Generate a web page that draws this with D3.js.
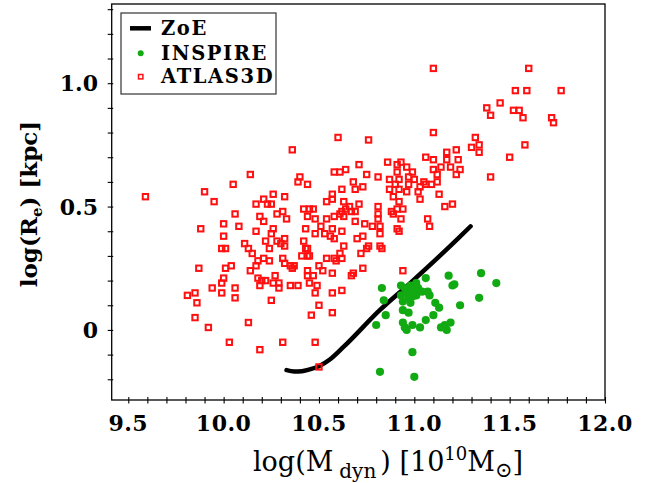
<!DOCTYPE html>
<html><head><meta charset="utf-8">
<script src="https://cdn.jsdelivr.net/npm/d3@7"></script>
<style>body{margin:0;background:#fff}svg{display:block}</style>
</head><body>
<script>
// ---- data ----
const atlas3d = [
[9.59,0.54],[9.90,0.56],[9.95,0.52],[10.05,0.59],[10.14,0.63],[10.36,0.73],[9.88,0.41],[10.00,0.43],[10.06,0.47],[10.08,0.42],
[10.00,0.38],[9.99,0.33],[10.01,0.33],[10.11,0.35],[10.13,0.33],[10.15,0.31],[10.17,0.40],[10.17,0.51],[10.21,0.53],[10.23,0.51],
[10.25,0.51],[10.26,0.55],[10.32,0.54],[10.28,0.47],[10.31,0.48],[10.33,0.45],[10.19,0.46],[10.21,0.44],[10.26,0.41],[10.25,0.39],
[10.22,0.36],[10.24,0.33],[10.28,0.36],[10.32,0.37],[10.32,0.34],[10.30,0.35],[10.21,0.29],[10.24,0.28],[10.18,0.28],[10.17,0.26],
[10.14,0.24],[10.18,0.21],[10.20,0.20],[10.22,0.20],[10.19,0.18],[10.27,0.22],[10.26,0.19],[10.29,0.19],[10.29,0.17],[10.31,0.29],
[10.32,0.27],[10.35,0.26],[10.36,0.25],[10.37,0.26],[10.04,0.26],[10.01,0.25],[10.00,0.21],[9.99,0.19],[9.99,0.15],[9.94,0.17],
[10.06,0.17],[10.06,0.13],[10.25,0.12],[10.13,0.03],[10.03,-0.05],[10.19,-0.08],[10.31,-0.05],[10.35,0.18],[10.39,0.18],[9.81,0.14],
[9.85,0.15],[9.86,0.11],[9.85,0.05],[9.92,0.01],[9.87,0.25],[10.39,0.60],[10.40,0.62],[10.44,0.59],[10.48,-0.05],[10.50,-0.15],
[10.60,0.78],[10.76,0.77],[10.86,0.68],[10.91,0.67],[10.91,0.64],[10.87,0.61],[10.90,0.59],[10.87,0.57],[10.89,0.54],[10.81,0.62],
[10.75,0.63],[10.71,0.67],[10.68,0.60],[10.69,0.57],[10.73,0.58],[10.62,0.57],[10.64,0.65],[10.58,0.64],[10.61,0.64],[10.57,0.55],
[10.54,0.52],[10.57,0.53],[10.63,0.52],[10.66,0.50],[10.71,0.51],[10.69,0.48],[10.67,0.48],[10.64,0.49],[10.62,0.48],[10.61,0.47],
[10.63,0.46],[10.58,0.46],[10.54,0.45],[10.47,0.49],[10.45,0.49],[10.48,0.45],[10.42,0.49],[10.44,0.46],[10.92,0.52],[10.91,0.49],
[10.88,0.48],[10.89,0.47],[10.91,0.41],[10.81,0.50],[10.81,0.47],[10.81,0.45],[10.82,0.42],[10.82,0.39],[10.78,0.42],[10.74,0.43],
[10.69,0.44],[10.73,0.38],[10.70,0.37],[10.62,0.40],[10.57,0.41],[10.51,0.42],[10.48,0.39],[10.43,0.41],[10.42,0.36],[10.44,0.33],
[10.45,0.30],[10.56,0.38],[10.53,0.39],[10.58,0.37],[10.76,0.34],[10.75,0.33],[10.82,0.34],[10.83,0.33],[10.72,0.31],[10.63,0.34],
[10.61,0.31],[10.62,0.29],[10.59,0.28],[10.58,0.29],[10.54,0.29],[10.43,0.33],[10.44,0.30],[10.41,0.30],[10.73,0.25],[10.67,0.22],
[10.68,0.23],[10.57,0.23],[10.52,0.24],[10.50,0.26],[10.44,0.24],[10.47,0.22],[10.44,0.22],[10.45,0.19],[10.49,0.18],[10.48,0.15],
[10.57,0.15],[10.62,0.16],[10.94,0.24],[10.50,0.10],[10.46,0.06],[10.57,0.07],
[11.10,1.06],[11.60,1.06],[11.53,0.97],[11.59,0.97],[11.77,0.97],[11.45,0.92],[11.38,0.90],[11.40,0.87],[11.52,0.89],[11.55,0.89],
[11.57,0.86],[11.72,0.86],[11.73,0.84],[11.10,0.80],[11.32,0.78],[11.30,0.74],[11.34,0.75],[11.34,0.72],[11.58,0.75],[11.50,0.70],
[11.40,0.62],[11.06,0.70],[11.10,0.69],[11.17,0.72],[11.22,0.73],[11.23,0.69],[11.24,0.65],[11.22,0.63],[11.17,0.69],[11.14,0.66],
[11.10,0.65],[11.12,0.63],[10.93,0.68],[10.96,0.66],[10.99,0.64],[11.00,0.61],[11.06,0.59],[11.09,0.59],[11.12,0.60],[11.03,0.58],
[11.02,0.56],[11.03,0.53],[11.13,0.55],[11.16,0.50],[11.20,0.51],[11.07,0.45],[11.08,0.42],[10.92,0.61],[10.92,0.57],[10.94,0.49],
[10.93,0.45],[10.92,0.40],[10.97,0.62],[11.05,0.60],[10.96,0.56],[10.97,0.59],[11.19,0.66]
];
const inspire = [
[10.83,0.17],[10.84,0.12],[10.85,0.06],[10.80,0.02],[10.93,0.18],[10.98,0.18],[10.99,0.16],[11.02,0.17],[11.04,0.155],[11.01,0.14],
[10.99,0.135],[10.96,0.15],[10.93,0.14],[10.94,0.115],[10.98,0.11],[11.06,0.21],[11.07,0.155],[11.08,0.14],[11.11,0.11],[11.13,0.09],
[11.10,0.06],[11.06,0.04],[10.94,0.08],[10.97,0.07],[10.94,0.03],[10.95,0.01],[10.96,0.00],[10.99,0.02],[11.03,0.01],[11.18,0.22],
[11.20,0.18],[11.21,0.185],[11.24,0.10],[11.34,0.13],[11.35,0.23],[11.43,0.19],[11.14,0.01],[11.17,0.00],[11.19,0.03],[11.16,0.02],
[10.99,-0.09],[10.82,-0.17],[11.00,-0.19],[10.95,0.17],[11.00,0.15],[10.97,0.13],[11.01,0.19]
];
const zoeX = [10.33,10.37,10.41,10.45,10.50,10.557,10.63,10.82,10.977,11.222,11.295];
const zoeY = [-0.163,-0.168,-0.167,-0.160,-0.147,-0.120,-0.068,0.081,0.189,0.365,0.42];
const xTickValues = [9.5,10.0,10.5,11.0,11.5,12.0];
const xTickLabels = ["9.5","10.0","10.5","11.0","11.5","12.0"];
const yTickValues = [0,0.5,1.0];
const yTickLabels = ["0","0.5","1.0"];
const legendLabels = ["ZoE","INSPIRE","ATLAS3D"];
const xDomain = [9.413,12.0];
const yDomain = [-0.284,1.321];

// ---- drawing ----
const W=656,H=483;
const L=111.7,R=605,T=4,B=400;
const svg=d3.select("body").append("svg").attr("width",W).attr("height",H);
const x=d3.scaleLinear().domain(xDomain).range([L,R]);
const y=d3.scaleLinear().domain(yDomain).range([B,T]);
const serif="'DejaVu Serif', serif";
const RED="#ff1010", GREEN="#12aa12";

svg.append("clipPath").attr("id","c").append("rect").attr("x",L).attr("y",T).attr("width",R-L).attr("height",B-T);
const plot=svg.append("g").attr("clip-path","url(#c)");

// ZoE line
const zoe=zoeX.map((v,i)=>[v,zoeY[i]]);
plot.append("path").datum(zoe)
  .attr("d",d3.line().x(d=>x(d[0])).y(d=>y(d[1])).curve(d3.curveMonotoneX))
  .attr("fill","none").attr("stroke","#000").attr("stroke-width",4.5).attr("stroke-linecap","round");

// ATLAS3D squares
plot.append("g").selectAll("rect").data(atlas3d).join("rect")
  .attr("x",d=>x(d[0])-2.7).attr("y",d=>y(d[1])-2.7).attr("width",5.4).attr("height",5.4)
  .attr("fill","none").attr("stroke",RED).attr("stroke-width",2);

// INSPIRE dots
plot.append("g").selectAll("circle").data(inspire).join("circle")
  .attr("cx",d=>x(d[0])).attr("cy",d=>y(d[1])).attr("r",4.1)
  .attr("fill",GREEN);

// axes
const xMinor=d3.range(95,121,1).map(v=>v/10);
const yMinor=d3.range(-2,14,1).map(v=>v/10);
const xa=svg.append("g").attr("transform",`translate(0,${B})`)
  .call(d3.axisBottom(x).tickValues(xMinor).tickSize(0).tickFormat(""));
xa.select(".domain").remove();
xa.selectAll(".tick line").attr("y1",-3).attr("y2",3.5).attr("stroke","#000").attr("stroke-width",1.1);
const ya=svg.append("g").attr("transform",`translate(${L},0)`)
  .call(d3.axisLeft(y).tickValues(yMinor).tickSize(0).tickFormat(""));
ya.select(".domain").remove();
ya.selectAll(".tick line").attr("x1",-4).attr("x2",1.5).attr("stroke","#000").attr("stroke-width",1.1);

// frame
svg.append("rect").attr("x",L).attr("y",T).attr("width",R-L).attr("height",B-T)
  .attr("fill","none").attr("stroke","#000").attr("stroke-width",1.3);

// tick labels
svg.append("g").selectAll("text").data(xTickValues).join("text")
  .attr("x",d=>x(d)).attr("y",431).attr("text-anchor","middle")
  .attr("font-family",serif).attr("font-weight","bold").attr("font-size",22).attr("letter-spacing",0.5)
  .text((d,i)=>xTickLabels[i]);
svg.append("g").selectAll("text").data(yTickValues).join("text")
  .attr("x",98).attr("y",d=>y(d)+8).attr("text-anchor","end")
  .attr("font-family",serif).attr("font-weight","bold").attr("font-size",22)
  .text((d,i)=>yTickLabels[i]);

// axis titles
const xt=svg.append("text").attr("x",388).attr("y",471).attr("text-anchor","middle")
  .attr("font-family",serif).attr("font-size",27);
xt.append("tspan").text("log(M");
xt.append("tspan").attr("dx",6).attr("dy",7).attr("font-size",20).text("dyn");
xt.append("tspan").attr("dx",4).attr("dy",-7).text(") [10");
xt.append("tspan").attr("dy",-11).attr("font-size",18).text("10");
xt.append("tspan").attr("dy",11).text("M");
xt.append("tspan").attr("dy",6).attr("font-size",21).text("\u2299");
xt.append("tspan").attr("dy",-6).text("]");

const yt=svg.append("text").attr("transform","translate(37,204) rotate(-90)").attr("text-anchor","middle")
  .attr("font-family",serif).attr("font-weight","bold").attr("font-size",23);
yt.append("tspan").text("log(R");
yt.append("tspan").attr("dy",5).attr("font-size",15).text("e");
yt.append("tspan").attr("dy",-5).text(") [kpc]");

// legend
const lg=svg.append("g");
lg.append("rect").attr("x",121).attr("y",13).attr("width",155).attr("height",81)
  .attr("fill","#fff").attr("stroke","#333").attr("stroke-width",1.2);
lg.append("line").attr("x1",130).attr("x2",151).attr("y1",28.3).attr("y2",28.3)
  .attr("stroke","#000").attr("stroke-width",4.5);
lg.append("circle").attr("cx",140.7).attr("cy",53.3).attr("r",3).attr("fill",GREEN);
lg.append("rect").attr("x",138.5).attr("y",74.5).attr("width",4.4).attr("height",4.4)
  .attr("fill","none").attr("stroke",RED).attr("stroke-width",1.5);
lg.selectAll("text.l").data(legendLabels).join("text").attr("class","l")
  .attr("x",161).attr("y",(d,i)=>[35,59.5,83.3][i])
  .attr("font-family",serif).attr("font-weight","bold").attr("font-size",19.5).attr("letter-spacing",1.6)
  .text(d=>d);
</script>
</body></html>
